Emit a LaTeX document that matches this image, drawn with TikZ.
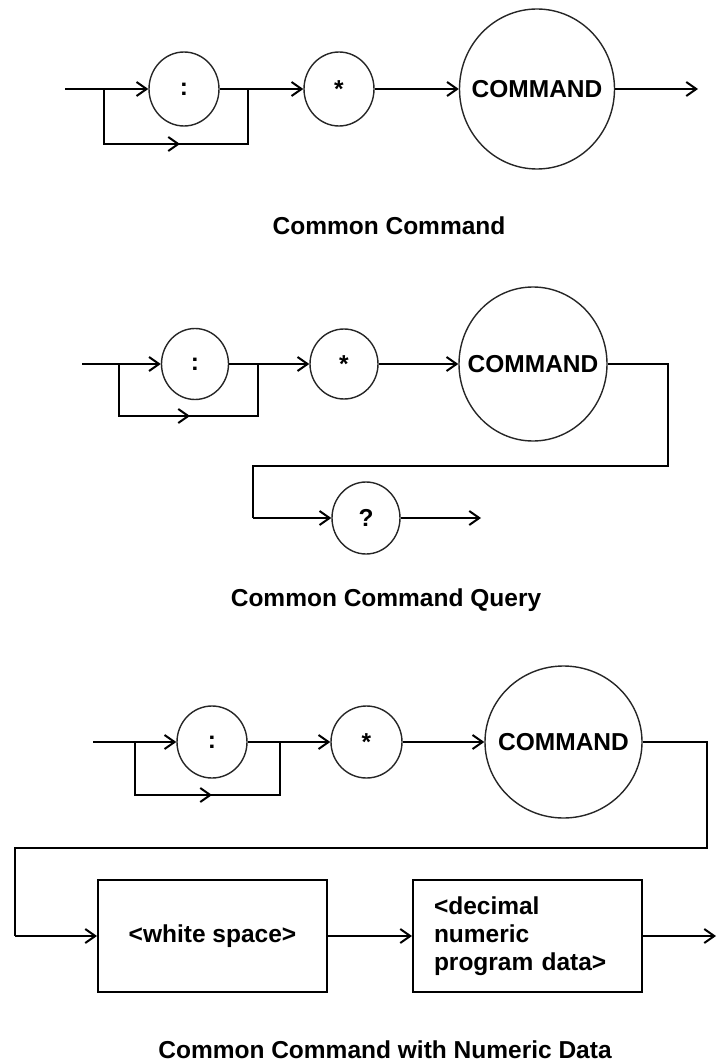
\documentclass[tikz,border=0pt]{standalone}
\usepackage{fontspec}
\setmainfont{Liberation Sans}
\usetikzlibrary{arrows.meta,shapes.geometric}
\begin{document}
\begin{tikzpicture}[x=1pt,y=-1pt,
  wire/.style={line width=2pt},
  arr/.style={wire,-{Straight Barb[length=10pt,width=14pt]}},
  txt/.style={font=\bfseries\fontsize{24.5pt}{28pt}\selectfont},
  bub/.style={draw=black!85,ellipse,line width=1.4pt,inner sep=0pt,txt},
  boxn/.style={draw,rectangle,line width=2pt,inner sep=0pt,minimum width=229pt,minimum height=112pt,txt},
  ttl/.style={txt,anchor=base}]
\useasboundingbox (0,0) rectangle (717,1064);

% ---------------- Common Command ----------------
\node[bub,minimum width=70pt,minimum height=74pt] (tc) at (184,89) {\makebox[0pt]{:}};
\node[bub,minimum width=70pt,minimum height=74pt] (ts) at (339,89) {\makebox[0pt]{*}};
\node[bub,minimum width=155pt,minimum height=160pt] (tm) at (537,89) {\makebox[0pt]{COMMAND}};
\coordinate (t0) at (65,89);
\coordinate (tl) at (104,89);
\coordinate (tr) at (248,89);
\coordinate (tb1) at (104,144);
\coordinate (tb2) at (248,144);
\coordinate (tbm) at (180,144);
\coordinate (tend) at (698,89);
\draw[arr] (t0) -- (tc.west);
\draw[wire] (tc.east) -- (tr);
\draw[wire] (tl) -- (tb1) -- (tb2) -- (tr);
\draw[arr] (tb1) -- (tbm);
\draw[arr] (tr) -- (ts.west);
\draw[arr] (ts.east) -- (tm.west);
\draw[arr] (tm.east) -- (tend);
\node[ttl] (t-title) at (389,235) {Common Command};

% ---------------- Common Command Query ----------------
\node[bub,minimum width=67pt,minimum height=71pt] (mc) at (195,364) {\makebox[0pt]{:}};
\node[bub,minimum width=68pt,minimum height=70pt] (ms) at (344,364) {\makebox[0pt]{*}};
\node[bub,minimum width=148pt,minimum height=154pt] (mm) at (533,364) {\makebox[0pt]{COMMAND}};
\node[bub,minimum width=68pt,minimum height=72pt] (mq) at (366,518) {\makebox[0pt]{?}};
\coordinate (m0) at (82,364);
\coordinate (ml) at (119,364);
\coordinate (mr) at (258,364);
\coordinate (mb1) at (119,416);
\coordinate (mb2) at (258,416);
\coordinate (mbm) at (190,416);
\coordinate (mr1) at (668,364);
\coordinate (mr2) at (668,466);
\coordinate (mr3) at (253,466);
\coordinate (mr4) at (253,518);
\coordinate (mend) at (481,518);
\draw[arr] (m0) -- (mc.west);
\draw[wire] (mc.east) -- (mr);
\draw[wire] (ml) -- (mb1) -- (mb2) -- (mr);
\draw[arr] (mb1) -- (mbm);
\draw[arr] (mr) -- (ms.west);
\draw[arr] (ms.east) -- (mm.west);
\draw[wire] (mm.east) -- (mr1) -- (mr2) -- (mr3) -- (mr4);
\draw[arr] (mr4) -- (mq.west);
\draw[arr] (mq.east) -- (mend);
\node[ttl] (m-title) at (386,606) {Common Command Query};

% ---------------- Common Command with Numeric Data ----------------
\node[bub,minimum width=70pt,minimum height=72pt] (bc) at (212,742) {\makebox[0pt]{:}};
\node[bub,minimum width=71pt,minimum height=72pt] (bs) at (366.5,742) {\makebox[0pt]{*}};
\node[bub,minimum width=157pt,minimum height=152pt] (bm) at (563.5,742) {\makebox[0pt]{COMMAND}};
\node[boxn] (bw) at (212.5,936) {\textless white space\textgreater};
\node[boxn,align=left,text width=187pt] (bd) at (527.5,936) {\textless decimal\\numeric\\program data\textgreater};
\coordinate (b0) at (93,742);
\coordinate (bl) at (135,742);
\coordinate (br) at (280,742);
\coordinate (bb1) at (135,795);
\coordinate (bb2) at (280,795);
\coordinate (bbm) at (212,795);
\coordinate (br1) at (707,742);
\coordinate (br2) at (707,848);
\coordinate (br3) at (15,848);
\coordinate (br4) at (15,936);
\coordinate (bend) at (716,936);
\draw[arr] (b0) -- (bc.west);
\draw[wire] (bc.east) -- (br);
\draw[wire] (bl) -- (bb1) -- (bb2) -- (br);
\draw[arr] (bb1) -- (bbm);
\draw[arr] (br) -- (bs.west);
\draw[arr] (bs.east) -- (bm.west);
\draw[wire] (bm.east) -- (br1) -- (br2) -- (br3) -- (br4);
\draw[arr] (br4) -- (bw.west);
\draw[arr] (bw.east) -- (bd.west);
\draw[arr] (bd.east) -- (bend);
\node[ttl] (b-title) at (385,1058) {Common Command with Numeric Data};
\end{tikzpicture}
\end{document}
